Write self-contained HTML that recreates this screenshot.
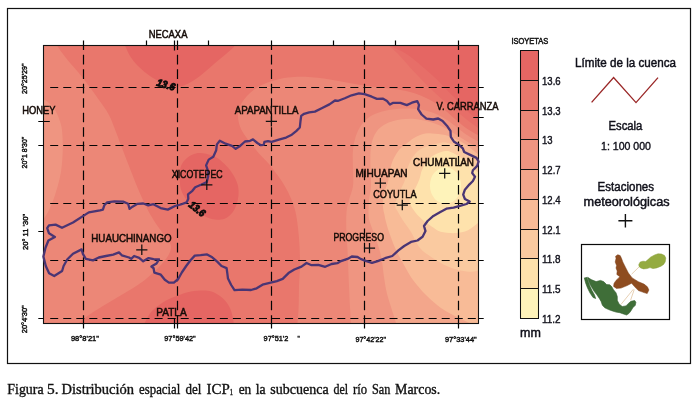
<!DOCTYPE html>
<html lang="es"><head><meta charset="utf-8"><title>Figura 5</title>
<style>html,body{margin:0;padding:0;background:#fff}body{width:700px;height:402px;overflow:hidden;font-family:"Liberation Sans",sans-serif}svg{display:block}text{font-family:"Liberation Sans",sans-serif}</style>
</head><body>
<svg width="700" height="402" viewBox="0 0 700 402" style="will-change:transform">
<rect width="700" height="402" fill="#fff"/>
<rect x="7.5" y="8.5" width="683" height="355" fill="none" stroke="#111" stroke-width="1.2"/>
<defs><clipPath id="mc"><rect x="43.5" y="45.5" width="435" height="278"/></clipPath></defs>
<g clip-path="url(#mc)">
<rect x="40" y="40" width="445" height="290" fill="#E9776C"/>
<path d="M120 36C120.8 37.6 123.3 42.3 125 45.6C126.7 48.9 127.8 52.6 130 56C132.2 59.4 134.7 62.7 138 66C141.3 69.3 146 73.2 150 76C154 78.8 158.3 81.2 162 83C165.7 84.8 168.7 86 172 86.5C175.3 87 179 86.7 182 86C185 85.3 187 84.2 190 82.5C193 80.8 196 79.1 200 76C204 72.9 209.7 67.7 214 64C218.3 60.3 222.5 57.1 226 54C229.5 50.9 232.5 48.6 235 45.6C237.5 42.6 240 37.6 241 36Z" fill="#E56663"/>
<path d="M380 36C381.5 37.6 385.7 42.2 389 45.5C392.3 48.8 395.6 51.4 399.9 55.9C404.2 60.4 410 67.3 414.8 72.4C419.6 77.5 424.5 82.5 428.5 86.5C432.5 90.5 435.1 93 439 96.5C442.9 100 447.8 103.8 452.2 107.5C456.6 111.2 461 115 465.4 118.5C469.8 122 475 125.9 478.8 128.5C482.6 131.1 486.5 133.1 488 134L488 36Z" fill="#E76E68"/>
<path d="M384 36C385.1 37.6 387 42.4 390.9 45.5C394.8 48.6 402.1 50.9 407.3 54.4C412.5 57.9 417.2 62.2 422.2 66.4C427.2 70.6 432.6 75.3 437.2 79.8C441.8 84.3 446.5 89.8 450 93.3C453.5 96.8 455.1 98 458 101C460.9 104 464.1 107.7 467.5 111C470.9 114.3 475.1 117.9 478.5 120.7C481.9 123.5 486.4 126.8 488 128L488 36Z" fill="#E56663"/>
<path d="M195.8 153.5C192.6 154.2 189.5 155.9 187 158C184.5 160.1 182.2 162.8 181 166C179.8 169.2 179.7 173.1 179.7 177C179.7 180.9 179.9 185.8 181 189.5C182.1 193.2 183.9 195.9 186 199C188.1 202.1 190.8 205.2 193.5 207.8C196.2 210.4 198.9 212.6 202 214.5C205.1 216.4 208.6 218.2 211.8 219C215 219.8 218.3 219.8 221 219.5C223.7 219.2 225.7 218.4 227.8 217C229.9 215.6 232 213.3 233.5 211C235 208.7 236.2 205.7 237 203C237.8 200.3 238.3 197.8 238.5 195C238.7 192.2 238.6 188.8 238 186C237.4 183.2 236.3 180.7 235 178C233.7 175.3 231.8 172.4 230 170C228.2 167.6 226.3 165.6 224 163.5C221.7 161.4 219.4 159.1 216.4 157.5C213.4 155.9 209.4 154.5 206 153.8C202.6 153.1 199 152.8 195.8 153.5Z" fill="#E56663"/>
<path d="M141 330C142.1 328 145.5 321.2 147.3 318C149.1 314.8 150.1 313.1 152 311C153.9 308.9 156.6 306.9 158.9 305.2C161.2 303.4 163.6 301.8 166 300.5C168.4 299.2 169.7 298.6 173.3 297.2C176.9 295.8 183.2 293.3 187.7 292.2C192.1 291.1 196 290.7 200 290.6C204 290.5 207.9 290.4 211.5 291.5C215.1 292.6 218.7 294.9 221.6 297.3C224.5 299.7 227.1 302.9 228.9 306C230.7 309.1 231.6 312 232.5 316C233.4 320 234.2 327.7 234.5 330Z" fill="#E56663"/>
<path d="M55 36C55.3 37.5 55.2 41.3 57 45C58.8 48.7 62.5 53.5 66 58C69.5 62.5 74.2 67.3 78 72C81.8 76.7 85.5 81.3 89 86C92.5 90.7 95.7 95.2 99 100C102.3 104.8 106.2 109.7 109 115C111.8 120.3 113.8 126.5 116 132C118.2 137.5 119.8 142.3 122 148C124.2 153.7 126.7 160 129 166C131.3 172 133.7 178.3 136 184C138.3 189.7 140.7 195 143 200C145.3 205 147.3 209.3 150 214C152.7 218.7 156 223.7 159 228C162 232.3 166 236.8 168 240C170 243.2 171 244.3 171 247C171 249.7 170 252.7 168 256C166 259.3 162.7 263.2 159 267C155.3 270.8 150.6 275.3 146 279C141.4 282.7 136.2 286 131.5 289C126.8 292 122.8 294.2 118 297C113.2 299.8 107.8 303 103 306C98.2 309 93 312.2 89 315C85 317.8 82.2 320.2 79 323C75.8 325.8 71.5 330.5 70 332L30 332L30 36Z" fill="#EC8777"/>
<path d="M490 139C488.1 138.4 482.8 137.3 478.8 135.5C474.8 133.7 470 130.8 466 128C462 125.2 458.3 121.8 455 119C451.7 116.2 449.2 113.6 446 111C442.8 108.4 439.7 105.8 436 103.5C432.3 101.2 428.3 98.9 424 97C419.7 95.1 415 93.3 410 92C405 90.7 399.8 89.8 394 89C388.2 88.2 382 87.9 375 87C368 86.1 359.5 84.8 352 83.5C344.5 82.2 337.8 80.6 330 79.5C322.2 78.4 312.5 77.1 305.5 76.8C298.5 76.5 293.6 76.8 288 77.5C282.4 78.2 277 79.4 272 81C267 82.6 262.2 84.5 258 87C253.8 89.5 250 92.8 247 96C244 99.2 241.5 102.5 240 106C238.5 109.5 237.8 113.2 238 117C238.2 120.8 239.2 125 241 129C242.8 133 246.1 137 249 141C251.9 145 255.2 149.2 258.5 153C261.8 156.8 265.8 160.2 269 164C272.2 167.8 275.3 172.1 278 175.8C280.7 179.6 282.8 182.7 285 186.5C287.2 190.3 289.2 194.3 291 198.6C292.8 202.8 294.3 207.1 295.5 212C296.7 216.9 297.3 222.3 298 228C298.7 233.7 299.2 239.7 299.5 246C299.8 252.3 300.1 259.3 300 266C299.9 272.7 299.2 279.2 299 286C298.8 292.8 298.9 300.8 298.6 307C298.4 313.2 297.8 318.5 297.5 323C297.2 327.5 297.1 332.2 297 334L490 334Z" fill="#EC8777"/>
<path d="M36 96C37.2 96.5 41.2 97.7 43.5 99C45.8 100.3 48 102 50 104C52 106 54 108.3 55.6 111C57.2 113.7 58.4 116.8 59.5 120C60.6 123.2 61.5 125.8 62 130C62.5 134.2 62.7 140.3 62.8 145C62.9 149.7 62.7 153.5 62.4 158C62.1 162.5 61.7 167.5 61 172C60.3 176.5 59.2 180.7 58 185C56.8 189.3 55.4 194 54 198C52.6 202 51.2 205.5 49.5 209C47.8 212.5 45.8 216.2 43.5 219C41.2 221.8 37.2 224.8 36 226Z" fill="#EF9581"/>
<path d="M490 145C488.1 144.4 482.6 143.3 478.8 141.6C475 139.9 470.6 137.3 467 135C463.4 132.7 460.3 130 457 127.5C453.7 125 450.7 122.3 447 120C443.3 117.7 439.3 115.2 435 113.5C430.7 111.8 425.8 110.3 421 109.5C416.2 108.7 410.8 108.5 406 108.5C401.2 108.5 396.5 108.8 392 109.5C387.5 110.2 383 111.1 379 112.5C375 113.9 371.2 115.6 368 118C364.8 120.4 362.2 123.5 360 127C357.8 130.5 356.2 134.7 355 139C353.8 143.3 353.1 147.8 352.8 153C352.5 158.2 353 164.5 353 170C353 175.5 353.7 181 353 186C352.3 191 350.1 195.7 349 200C347.9 204.3 346.9 207 346.5 212C346.1 217 346.1 223.7 346.3 230C346.5 236.3 347.1 242.2 347.5 250C347.9 257.8 348.2 267.5 348.6 277C349 286.5 349.6 299.3 350 307C350.4 314.7 350.8 318.5 351 323C351.2 327.5 351.4 332.2 351.5 334L490 334Z" fill="#EF9581"/>
<path d="M490 151C488.1 150.4 482.6 149.3 478.8 147.7C475 146.1 471 143.8 467 141.5C463 139.2 459 136.4 455 134C451 131.6 447.2 129 443 127C438.8 125 434.7 123.3 430 122C425.3 120.7 419.7 119.5 415 119C410.3 118.5 406 118.8 402 119.3C398 119.8 394.2 120.8 391 121.8C387.8 122.8 385.3 124 383 125.5C380.7 127 378.8 128.6 377 131C375.2 133.4 373.6 136.5 372.5 140C371.4 143.5 370.8 147 370.5 152C370.2 157 370.4 164.3 370.5 170C370.6 175.7 371.2 181 371 186C370.8 191 369.4 195.7 369 200C368.6 204.3 368.4 208.5 368.5 212C368.6 215.5 368.4 217 369.5 221C370.6 225 373.3 231.2 375 236C376.7 240.8 378.3 245.7 379.5 250C380.7 254.3 381.2 257.5 382 262C382.8 266.5 383.2 271.8 384 277C384.8 282.2 385.6 288 386.8 293C388 298 389.5 302 391 307C392.5 312 394.8 318.5 396 323C397.2 327.5 397.7 332.2 398 334L490 334Z" fill="#F3A68B"/>
<path d="M490 158C488.1 157.4 482.5 156.7 478.8 154.7C475.1 152.7 471.8 148.6 468 146C464.2 143.4 459.8 140.8 456 139C452.2 137.2 449 135.9 445 135C441 134.1 435.7 133.7 432 133.5C428.3 133.3 426 133.2 423 134C420 134.8 416.8 136.3 414 138C411.2 139.7 408.5 142 406 144C403.5 146 401.2 147.3 399 150C396.8 152.7 394.5 156.7 393 160C391.5 163.3 390.8 166.7 390 170C389.2 173.3 389.2 176.8 388.5 180C387.8 183.2 386.4 186.2 385.5 189C384.6 191.8 383.4 194 383 197C382.6 200 382.8 204 383 207C383.2 210 384 212.5 384.5 215C385 217.5 385.2 219.2 386 222C386.8 224.8 387.3 227.3 389 232C390.7 236.7 393.5 244.5 396 250C398.5 255.5 401.2 260 404 265C406.8 270 409.3 275 413 280C416.7 285 421.3 290.3 426 295C430.7 299.7 435.7 304.2 441 308C446.3 311.8 453 314.9 458 317.5C463 320.1 466.7 321.6 471 323.5C475.3 325.4 481.8 328.1 484 329L490 334Z" fill="#F8BB97"/>
<path d="M490 166C488.1 165.4 482.5 164.5 478.8 162.5C475.1 160.5 471.5 156.6 468 154C464.5 151.4 461.7 148.9 458 147C454.3 145.1 449 143.2 446 142.5C443 141.8 443 142.4 440 143C437 143.6 431.7 144.7 428 146C424.3 147.3 420.8 148.7 418 151C415.2 153.3 412.8 156.8 411 160C409.2 163.2 408 166.7 407 170C406 173.3 406.1 176.7 405 180C403.9 183.3 401.9 186.8 400.5 190C399.1 193.2 397.4 196.3 396.5 199C395.6 201.7 394.8 203.8 395 206C395.2 208.2 396.5 209.3 398 212C399.5 214.7 401.8 218.7 404 222C406.2 225.3 408.3 227.7 411 232C413.7 236.3 416.5 243.8 420 248C423.5 252.2 428 254.7 432 257.5C436 260.3 439.5 262.6 443.9 264.7C448.3 266.8 453.6 268.8 458.2 270C462.8 271.2 467.9 271.7 471.3 271.8C474.7 271.9 475.7 271.2 478.8 270.6C481.9 270 488.1 268.4 490 268Z" fill="#FACAA0"/>
<path d="M490 177C488.1 176.3 482.1 175.1 478.8 173C475.5 170.9 473.1 167.2 470 164.5C466.9 161.8 463 159 460 157C457 155 454.3 153.5 452 152.5C449.7 151.5 448.7 150.8 446 151C443.3 151.2 439 152.5 436 154C433 155.5 430.3 157.3 428 160C425.7 162.7 423.4 166.8 422 170C420.6 173.2 420.5 176.2 419.5 179C418.5 181.8 417.3 184.3 416 187C414.7 189.7 412.6 192.7 411.5 195C410.4 197.3 409.6 199.2 409.5 201C409.4 202.8 410.2 204.4 411 206C411.8 207.6 412.8 208.9 414 210.5C415.2 212.1 416.3 213.8 418 215.5C419.7 217.2 421.3 218.9 424 221C426.7 223.1 431.2 226.2 434 228C436.8 229.8 437.1 230.8 440.6 231.7C444.1 232.5 450.4 233.3 455 233.1C459.6 232.9 464 232.1 468 230.3C472 228.5 475.1 225 478.8 222.3C482.5 219.6 488.1 215.4 490 214Z" fill="#FEE2AC"/>
<path d="M461.1 185.5C461.1 187.8 460.7 190.3 459.9 192.5C459.2 194.6 457.9 196.7 456.5 198.4C455.1 200 453.3 201.4 451.5 202.3C449.6 203.2 447.5 203.7 445.5 203.7C443.5 203.7 441.4 203.2 439.5 202.3C437.7 201.4 435.9 200 434.5 198.4C433.1 196.7 431.8 194.6 431.1 192.5C430.3 190.3 429.9 187.8 429.9 185.5C429.9 183.2 430.3 180.7 431.1 178.5C431.8 176.4 433.1 174.3 434.5 172.6C435.9 171 437.7 169.6 439.5 168.7C441.4 167.8 443.5 167.3 445.5 167.3C447.5 167.3 449.6 167.8 451.5 168.7C453.3 169.6 455.1 171 456.5 172.6C457.9 174.3 459.2 176.4 459.9 178.5C460.7 180.7 461.1 183.2 461.1 185.5Z" fill="#FEF3BA"/>
</g>
<rect x="43.5" y="45.5" width="435" height="278" fill="none" stroke="#111" stroke-width="1.1"/>
<path d="M83.5 40.4V328.6M177.5 40.4V328.6M271.5 40.4V328.6M364.5 40.4V328.6M458.5 40.4V328.6" stroke="#050505" stroke-width="1.2" fill="none" stroke-dasharray="9.6 4.86"/>
<path d="M50.2 87.5H478.5M50.2 145.5H478.5M50.2 203.5H478.5M50.2 260.5H478.5M50.2 318.5H478.5" stroke="#050505" stroke-width="1.2" fill="none" stroke-dasharray="8 5.05"/>
<path d="M146.5 40.4V45.5M208.5 40.4V45.5M333.5 40.4V45.5M395.5 40.4V45.5M174.5 40.4V50.4M174.5 318.5V328.6M171 318.5H174.5M83.5 323.5V328.6M177.5 323.5V328.6M271.5 323.5V328.6M364.5 323.5V328.6M458.5 323.5V328.6M38.3 121.5H49.8M38.3 145.5H43.5M38.3 231.5H43.5M38.3 318.5H43.5M473.3 117.5H483.7M478.5 87.5H483.7M478.5 145.5H483.7M478.5 203.5H483.7M478.5 260.5H483.7M478.5 318.5H483.7" stroke="#050505" stroke-width="1.2" fill="none"/>
<path d="M45.5 247.7L48.4 240.5L54.9 236.9L49 233.3L47.2 228.2L49 225.4L55.6 224.6L62 227.8L73 222.5L88.8 212.4L100 210.3L102.9 209.6L104.3 205.3L107.2 202.4L114.4 201.4L123.1 201.6L128.1 203.8L129.6 208.9L132.5 206.7L137.5 203.8L143.3 203.5L148.3 205.3L153.4 204.2L160.6 208.1L167.8 209.6L175 206L180.8 204.5L186.6 202.4L188.3 198.8L188 194.4L192.4 190.8L195.2 187.2L201 184.8L206.8 182L208.2 176.2L207.8 170.4L206.1 165.4L208.7 159.6L213.3 156.7L216.2 150.2L216.9 144.4L219.8 140.8L225.6 143.7L232 145.9L235.7 148.8L239.3 146.6L245 141.5L250.1 140.8L253 139.4L257.3 143L260.8 145.2L263.7 144.8L264.4 141.9L268 141.2L271.6 141.9L278.9 139.7L286.1 137.6L291.8 134.7L296.2 131.1L299.8 127.5L300.5 121L301.2 115.9L304.1 113.8L309.2 112.3L314.9 111.6L322.2 108L329.4 104.4L335 100.5L338.3 100.8L344.8 98.3L351.6 95.3L358.9 93.4L364.6 94.2L371.8 96.7L376.9 98.9L382.7 98.6L387 101L389.9 104.6L392.8 102.9L400.4 102.8L406.8 105.1L411.9 102.7L417.3 101.1L419 104.9L418.1 109.2L421.6 114.5L426.4 118.6L433.2 119.5L438.2 118.5L442.6 120.9L446.9 125.7L450.5 131L450.8 136.8L454.1 141.8L459.2 145L462.8 148.3L464.2 152L470.7 155.1L476.5 157.9L478.6 161.5L477.2 165.9L472.9 170.2L472.2 173.1L475 176.7L472.9 181L469.3 184.6L464.9 189.7L463.2 194.7L464.9 199L469.7 201.6L466.5 204L460.7 205.7L453.6 207.7L446.4 208.7L439.9 212.3L433.4 215.9L427.6 221L424 226L425.5 231.1L422.6 236.8L417.5 240.5L411 241.9L404.2 246L398.4 250.4L392.3 256L385 258.2L377.8 261.1L372 262.8L366.3 261.1L360.5 258.9L357.6 257L351.8 256.5L347.5 258.9L341 261.1L337.4 263.2L331.6 264L325.2 266.8L318.3 264.8L311.6 265.2L306.5 263L301.5 266.6L294.3 269.5L288.5 273.1L282.7 278.9L276.9 281.1L269.7 282.8L262.5 284.7L256.7 288.3L251 290L242.3 289.7L234.5 290.2L231.2 285L228 278.6L227.3 273.2L226.6 268.1L221.5 266L217.2 261.6L212.2 257.3L207.1 254.4L200.6 255.2L194.8 255.6L190.5 260.2L186.2 266L181.8 272.5L178.2 279L173.9 282.6L168.9 282.6L164.8 279.8L160.8 274.7L154.3 272.6L153.6 268.2L151.4 266.6L156.5 263.5L159 259.3L153.6 259.2L148.6 258.1L143.2 261.3L139.2 257.9L134.1 256L131.2 258.9L129.1 257.5L121.8 255.3L119 252.4L113.2 254.6L106 256L98.8 257.5L93 260.4L85.8 258.9L82.9 253.9L81.6 249.4L73 253.7L67.2 259.5L63.6 266L62.1 271L54.2 276L49.1 273.2L45.8 266L43.4 256.6Z" fill="none" stroke="#4A3574" stroke-width="2.3" stroke-linejoin="round" stroke-linecap="round"/>
<path d="M265.8 121.4H277M271.4 116.2V126.6" stroke="#111" stroke-width="1.25" fill="none"/>
<path d="M201.2 184.8H212.4M206.8 179.6V190" stroke="#111" stroke-width="1.25" fill="none"/>
<path d="M374.8 183.1H386M380.4 177.9V188.3" stroke="#111" stroke-width="1.25" fill="none"/>
<path d="M439.1 173.4H450.3M444.7 168.2V178.6" stroke="#111" stroke-width="1.25" fill="none"/>
<path d="M396.7 205H407.9M402.3 199.8V210.2" stroke="#111" stroke-width="1.25" fill="none"/>
<path d="M136.2 249.8H147.4M141.8 244.6V255" stroke="#111" stroke-width="1.25" fill="none"/>
<path d="M363.9 248.1H375.1M369.5 242.9V253.3" stroke="#111" stroke-width="1.25" fill="none"/>
<text x="148.8" y="38.1" font-size="10.4" textLength="38.6" lengthAdjust="spacingAndGlyphs" fill="#160c08" stroke="#160c08" stroke-width="0.5">NECAXA</text>
<text x="22.3" y="114.1" font-size="10.4" textLength="33.2" lengthAdjust="spacingAndGlyphs" fill="#160c08" stroke="#160c08" stroke-width="0.5">HONEY</text>
<text x="234.7" y="113.8" font-size="10.4" textLength="63.8" lengthAdjust="spacingAndGlyphs" fill="#160c08" stroke="#160c08" stroke-width="0.5">APAPANTILLA</text>
<text x="436.5" y="110" font-size="10.4" textLength="62" lengthAdjust="spacingAndGlyphs" fill="#160c08" stroke="#160c08" stroke-width="0.5">V. CARRANZA</text>
<text x="171.8" y="177.6" font-size="10.2" textLength="50.8" lengthAdjust="spacingAndGlyphs" fill="#160c08" stroke="#160c08" stroke-width="0.5">XICOTEPEC</text>
<text x="355.4" y="176.6" font-size="10.2" textLength="52.2" lengthAdjust="spacingAndGlyphs" fill="#160c08" stroke="#160c08" stroke-width="0.5">MIHUAPAN</text>
<text x="413" y="166" font-size="10.2" textLength="61" lengthAdjust="spacingAndGlyphs" fill="#160c08" stroke="#160c08" stroke-width="0.5">CHUMATLAN</text>
<text x="373.2" y="197.8" font-size="10.2" textLength="43.4" lengthAdjust="spacingAndGlyphs" fill="#160c08" stroke="#160c08" stroke-width="0.5">COYUTLA</text>
<text x="91.3" y="241.7" font-size="10.2" textLength="80.3" lengthAdjust="spacingAndGlyphs" fill="#160c08" stroke="#160c08" stroke-width="0.5">HUAUCHINANGO</text>
<text x="333.4" y="240.9" font-size="10.2" textLength="50.6" lengthAdjust="spacingAndGlyphs" fill="#160c08" stroke="#160c08" stroke-width="0.5">PROGRESO</text>
<text x="156.2" y="316" font-size="10.4" textLength="30.5" lengthAdjust="spacingAndGlyphs" fill="#160c08" stroke="#160c08" stroke-width="0.5">PATLA</text>
<text x="156" y="85.4" font-size="10.4" textLength="18.6" lengthAdjust="spacingAndGlyphs" font-weight="bold" font-style="italic" fill="#0a0a0a" transform="rotate(17 156 85.4)" stroke="#0a0a0a" stroke-width="0.85">13.6</text>
<text x="188" y="206" font-size="10.4" textLength="18" lengthAdjust="spacingAndGlyphs" font-weight="bold" font-style="italic" fill="#0a0a0a" transform="rotate(39 188 206)" stroke="#0a0a0a" stroke-width="0.85">13.6</text>
<text x="70.9" y="340.9" font-size="7.9" textLength="28.1" lengthAdjust="spacingAndGlyphs" fill="#111" stroke="#111" stroke-width="0.45">98°8'21"</text>
<text x="164.3" y="340.9" font-size="7.9" textLength="31.4" lengthAdjust="spacingAndGlyphs" fill="#111" stroke="#111" stroke-width="0.45">97°59'42"</text>
<text x="263.6" y="340.9" font-size="7.9" textLength="24.7" lengthAdjust="spacingAndGlyphs" fill="#111" stroke="#111" stroke-width="0.45">97°51'2</text>
<text x="355.4" y="342.4" font-size="7.9" textLength="30.7" lengthAdjust="spacingAndGlyphs" fill="#111" stroke="#111" stroke-width="0.45">97°42'22"</text>
<text x="445" y="342.4" font-size="7.9" textLength="31.7" lengthAdjust="spacingAndGlyphs" fill="#111" stroke="#111" stroke-width="0.45">97°33'44"</text>
<text x="297.4" y="340.9" font-size="7.9" textLength="2.3" lengthAdjust="spacingAndGlyphs" fill="#111" stroke="#111" stroke-width="0.45">"</text>
<text x="26.5" y="94" font-size="7.9" textLength="30.6" lengthAdjust="spacingAndGlyphs" fill="#111" transform="rotate(-90 26.5 94)" stroke="#111" stroke-width="0.45">20°25'29"</text>
<text x="26.5" y="168.5" font-size="7.9" textLength="31.8" lengthAdjust="spacingAndGlyphs" fill="#111" transform="rotate(-90 26.5 168.5)" stroke="#111" stroke-width="0.45">20°1 8'30"</text>
<text x="27.6" y="250" font-size="7.9" textLength="36.2" lengthAdjust="spacingAndGlyphs" fill="#111" transform="rotate(-90 27.6 250)" stroke="#111" stroke-width="0.45">20° 11 '30"</text>
<text x="27.2" y="333.3" font-size="7.9" textLength="28.1" lengthAdjust="spacingAndGlyphs" fill="#111" transform="rotate(-90 27.2 333.3)" stroke="#111" stroke-width="0.45">20°4'30"</text>
<rect x="520.5" y="50.5" width="18" height="30.1" fill="#E56663"/>
<rect x="520.5" y="80.3" width="18" height="30.1" fill="#E9776C"/>
<rect x="520.5" y="110.1" width="18" height="30.1" fill="#EC8777"/>
<rect x="520.5" y="139.8" width="18" height="30.1" fill="#EF9581"/>
<rect x="520.5" y="169.6" width="18" height="30.1" fill="#F3A68B"/>
<rect x="520.5" y="199.4" width="18" height="30.1" fill="#F8BB97"/>
<rect x="520.5" y="229.2" width="18" height="30.1" fill="#FACAA0"/>
<rect x="520.5" y="258.9" width="18" height="30.1" fill="#FEE2AC"/>
<rect x="520.5" y="288.7" width="18" height="30.1" fill="#FEF3BA"/>
<path d="M520.5 50.5H538.5V318.5H520.5ZM520.5 80.5H538.5M520.5 110.5H538.5M520.5 139.5H538.5M520.5 169.5H538.5M520.5 199.5H538.5M520.5 229.5H538.5M520.5 258.5H538.5M520.5 288.5H538.5" fill="none" stroke="#111" stroke-width="1.05"/>
<text x="511.4" y="44.1" font-size="8.3" textLength="36.8" lengthAdjust="spacingAndGlyphs" fill="#151515" stroke="#151515" stroke-width="0.5">ISOYETAS</text>
<text x="542" y="84.8" font-size="11.8" textLength="18.6" lengthAdjust="spacingAndGlyphs" fill="#10101a" stroke="#10101a" stroke-width="0.4">13.6</text>
<text x="542" y="114.6" font-size="11.8" textLength="18.6" lengthAdjust="spacingAndGlyphs" fill="#10101a" stroke="#10101a" stroke-width="0.4">13.3</text>
<text x="542" y="144.3" font-size="11.8" textLength="10.6" lengthAdjust="spacingAndGlyphs" fill="#10101a" stroke="#10101a" stroke-width="0.4">13</text>
<text x="542" y="174.1" font-size="11.8" textLength="18.6" lengthAdjust="spacingAndGlyphs" fill="#10101a" stroke="#10101a" stroke-width="0.4">12.7</text>
<text x="542" y="203.9" font-size="11.8" textLength="18.6" lengthAdjust="spacingAndGlyphs" fill="#10101a" stroke="#10101a" stroke-width="0.4">12.4</text>
<text x="542" y="233.7" font-size="11.8" textLength="18.6" lengthAdjust="spacingAndGlyphs" fill="#10101a" stroke="#10101a" stroke-width="0.4">12.1</text>
<text x="542" y="263.4" font-size="11.8" textLength="18.6" lengthAdjust="spacingAndGlyphs" fill="#10101a" stroke="#10101a" stroke-width="0.4">11.8</text>
<text x="542" y="293.2" font-size="11.8" textLength="18.6" lengthAdjust="spacingAndGlyphs" fill="#10101a" stroke="#10101a" stroke-width="0.4">11.5</text>
<text x="542" y="323" font-size="11.8" textLength="18.6" lengthAdjust="spacingAndGlyphs" fill="#10101a" stroke="#10101a" stroke-width="0.4">11.2</text>
<text x="520" y="336.7" font-size="13" textLength="20.8" lengthAdjust="spacingAndGlyphs" fill="#10101a" stroke="#10101a" stroke-width="0.5">mm</text>
<text x="575" y="66.6" font-size="12.3" textLength="101" lengthAdjust="spacingAndGlyphs" fill="#10101a" stroke="#10101a" stroke-width="0.45">Límite de la cuenca</text>
<path d="M591.6 102.4L613.6 77.6L636 102.6L658 77.6" fill="none" stroke="#9A2727" stroke-width="1.35"/>
<text x="608.6" y="130" font-size="12.3" textLength="33.8" lengthAdjust="spacingAndGlyphs" fill="#10101a" stroke="#10101a" stroke-width="0.45">Escala</text>
<text x="601" y="149.6" font-size="10.2" textLength="50" lengthAdjust="spacingAndGlyphs" fill="#10101a" stroke="#10101a" stroke-width="0.35">1: 100 000</text>
<text x="597.6" y="191" font-size="12.3" textLength="56.4" lengthAdjust="spacingAndGlyphs" fill="#10101a" stroke="#10101a" stroke-width="0.45">Estaciones</text>
<text x="583.6" y="205.6" font-size="12.3" textLength="86" lengthAdjust="spacingAndGlyphs" fill="#10101a" stroke="#10101a" stroke-width="0.45">meteorológicas</text>
<path d="M618.4 220.8H632.4M625.4 214V227.6" stroke="#111" stroke-width="1.4" fill="none"/>
<rect x="581.5" y="244.5" width="88" height="75" fill="#fff" stroke="#0a0a0a" stroke-width="1.2"/>
<path d="M639.4 266.6L631.6 274.2M634.2 289.6L630.6 300.2M633.4 289.2L621 304.4" stroke="#DDBB94" stroke-width="0.7" fill="none"/>
<path d="M587.6 277.2L591.2 279.6L596.1 281.6L600.5 280.4L603.6 281.6L606.7 284.6L609.8 284.8L611.7 286.6L613.5 289.7L616 292.8L617.3 296.6L617.3 300.3L619.1 304L622.2 306.5L626 305.9L628.4 303.4L630.9 301.3L634.7 300.5L635.9 302.2L635.3 305.3L632.8 307.8L630.9 310.9L629.1 313.3L626.6 315L623.5 314L619.8 312.7L616 312.1L612.3 310.9L608.6 309.6L604.8 307.8L602.4 305.3L601.1 301.5L599.3 298.4L596.8 294.7L594.3 291.6L592.4 288.5L590.6 285.4L589 282ZM584.3 277.9L587 277.4L588.3 281.5L589.9 286L592 290.5L594.5 295L595.7 298.6L593 297.4L589.9 292.8L587.5 287.9L585.6 282.9Z" fill="#3F6E38" stroke="#355F30" stroke-width="0.6" stroke-linejoin="round"/>
<path d="M617.8 254.7L620.2 255.6L621.6 258.6L622.8 261.9L625.8 267.9L628.4 273L632.2 277.9L638.4 281.7L644 284.1L647.4 286.8L648.9 290L647.2 293.6L644 292.6L638.4 290.6L634.7 286.8L631.6 283.2L627.2 285.6L621 288.1L616.4 288.4L613.6 286.4L614 283.4L616 280.4L618.2 278.4L619.8 276.7L616.8 274.4L617.2 271L616 268L616.6 265.5L615.2 262L616 258.5L615.6 256.2Z" fill="#8E4C20" stroke="#7C3F18" stroke-width="0.5" stroke-linejoin="round"/>
<path d="M638.8 264.4L640.2 262L643 261.2L645.7 261.5L648 259.6L650.5 257.2L654.7 254.9L658 253.8L661.5 254L664.5 255.4L665.8 258L665.2 261.9L663.6 264.4L661 266.2L656.7 267.9L653 268.6L650 267.6L647 268.6L643.5 268.9L640.7 267.9L639 266.4Z" fill="#94AB40" stroke="#869C38" stroke-width="0.5" stroke-linejoin="round"/>
<text x="7.3" y="393.6" font-size="14.3" textLength="36.3" lengthAdjust="spacingAndGlyphs" style="font-family:'Liberation Serif',serif" fill="#111" stroke="#111" stroke-width="0.35">Figura</text>
<text x="47" y="393.6" font-size="14.3" textLength="11.6" lengthAdjust="spacingAndGlyphs" style="font-family:'Liberation Serif',serif" fill="#111" stroke="#111" stroke-width="0.35">5.</text>
<text x="61.5" y="393.6" font-size="14.3" textLength="72.5" lengthAdjust="spacingAndGlyphs" style="font-family:'Liberation Serif',serif" fill="#111" stroke="#111" stroke-width="0.35">Distribución</text>
<text x="139" y="393.6" font-size="14.3" textLength="41.4" lengthAdjust="spacingAndGlyphs" style="font-family:'Liberation Serif',serif" fill="#111" stroke="#111" stroke-width="0.35">espacial</text>
<text x="185.5" y="393.6" font-size="14.3" textLength="15.9" lengthAdjust="spacingAndGlyphs" style="font-family:'Liberation Serif',serif" fill="#111" stroke="#111" stroke-width="0.35">del</text>
<text x="206.5" y="393.6" font-size="14.3" textLength="23.2" lengthAdjust="spacingAndGlyphs" style="font-family:'Liberation Serif',serif" fill="#111" stroke="#111" stroke-width="0.35">ICP</text>
<text x="238.7" y="393.6" font-size="14.3" textLength="12.6" lengthAdjust="spacingAndGlyphs" style="font-family:'Liberation Serif',serif" fill="#111" stroke="#111" stroke-width="0.35">en</text>
<text x="255.8" y="393.6" font-size="14.3" textLength="9.9" lengthAdjust="spacingAndGlyphs" style="font-family:'Liberation Serif',serif" fill="#111" stroke="#111" stroke-width="0.35">la</text>
<text x="270.3" y="393.6" font-size="14.3" textLength="58.3" lengthAdjust="spacingAndGlyphs" style="font-family:'Liberation Serif',serif" fill="#111" stroke="#111" stroke-width="0.35">subcuenca</text>
<text x="333.5" y="393.6" font-size="14.3" textLength="14.6" lengthAdjust="spacingAndGlyphs" style="font-family:'Liberation Serif',serif" fill="#111" stroke="#111" stroke-width="0.35">del</text>
<text x="353" y="393.6" font-size="14.3" textLength="14.1" lengthAdjust="spacingAndGlyphs" style="font-family:'Liberation Serif',serif" fill="#111" stroke="#111" stroke-width="0.35">río</text>
<text x="372" y="393.6" font-size="14.3" textLength="18.4" lengthAdjust="spacingAndGlyphs" style="font-family:'Liberation Serif',serif" fill="#111" stroke="#111" stroke-width="0.35">San</text>
<text x="395.1" y="393.6" font-size="14.3" textLength="45.1" lengthAdjust="spacingAndGlyphs" style="font-family:'Liberation Serif',serif" fill="#111" stroke="#111" stroke-width="0.35">Marcos.</text>
<text x="229.7" y="395.2" font-size="8.6" textLength="3.2" lengthAdjust="spacingAndGlyphs" style="font-family:'Liberation Serif',serif" fill="#111" stroke="#111" stroke-width="0.35">1</text>
</svg>
</body></html>
